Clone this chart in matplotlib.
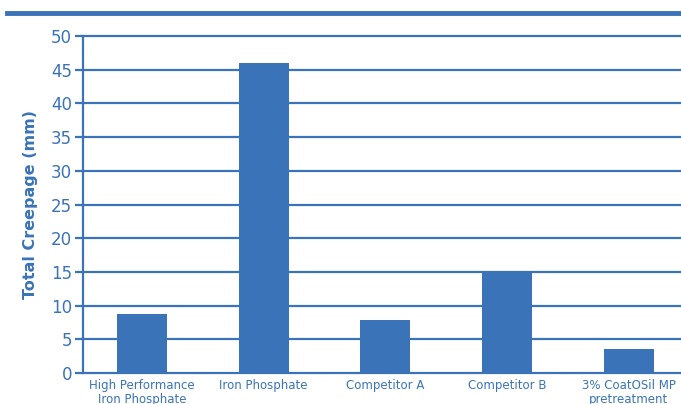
import numpy as np
import matplotlib.pyplot as plt
from matplotlib.lines import Line2D

categories = ['High Performance\nIron Phosphate', 'Iron Phosphate', 'Competitor A',
              'Competitor B', '3% CoatOSil MP\npretreatment']
creepage = [8.7, 46.0, 7.9, 15.0, 3.5]
yticks = [0, 5, 10, 15, 20, 25, 30, 35, 40, 45, 50]

blue = '#3a73b8'

fig = plt.figure(figsize=(6.81, 4.04), dpi=100)
ax = fig.add_axes([83/681, 1 - 373/404, 1 - 83/681, 337/404])

x = np.arange(len(categories))
ax.bar(x, creepage, width=0.41, color=blue, zorder=3)

ax.set_ylim(0, 50)
ax.set_xlim(-0.485, 4.43)
ax.set_yticks(yticks)
for t in yticks:
    ax.axhline(t, color=blue, lw=1.6, zorder=2, clip_on=False)

ax.set_xticks(x)
ax.set_xticklabels(categories, fontsize=8.5, color=blue, linespacing=1.1)
ax.tick_params(axis='x', length=0, pad=4)
ax.tick_params(axis='y', length=6, width=1.6, color=blue, labelcolor=blue,
               labelsize=12, pad=2)

for s in ['top', 'right', 'bottom']:
    ax.spines[s].set_visible(False)
ax.spines['left'].set_color(blue)
ax.spines['left'].set_linewidth(1.6)

ax.set_ylabel('Total Creepage (mm)', fontsize=11.5, fontweight='bold',
              color=blue, labelpad=9)

# thick rule across the top
fig.add_artist(Line2D([7/681, 1], [1 - 13/404, 1 - 13/404], color=blue,
                      lw=3.5, transform=fig.transFigure))

fig.savefig('out.png', dpi=100)
